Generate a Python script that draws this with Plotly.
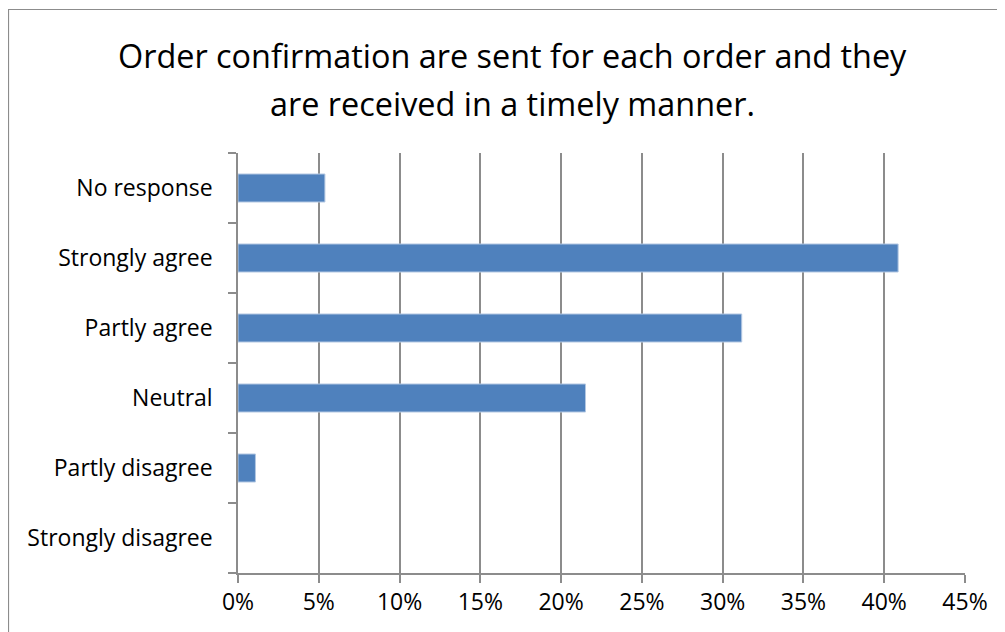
import plotly.graph_objects as go

categories = ["Strongly disagree", "Partly disagree", "Neutral", "Partly agree", "Strongly agree", "No response"]
values = [0.0, 0.0108, 0.2151, 0.3118, 0.4086, 0.0538]
x_ticks = [0, 0.05, 0.10, 0.15, 0.20, 0.25, 0.30, 0.35, 0.40, 0.45]
x_tick_labels = ["0%", "5%", "10%", "15%", "20%", "25%", "30%", "35%", "40%", "45%"]
title_lines = ["Order confirmation are sent for each order and they",
               "are received in a timely manner."]

FONT = "Open Sans, Lato, sans-serif"
GRID = "#8c8c8c"

# page body has an 8px margin, so the figure is laid out 8px smaller
OFF = 8
W, H = 1005 - OFF, 632 - OFF
ML, MT = 238 - OFF, 153 - OFF
MR = W - (965 - OFF)
MB = H - (573 - OFF)
PW, PH = W - ML - MR, H - MT - MB

def px_x(p):
    return (p - OFF - ML) / PW

def px_y(p):
    return (H - MB - (p - OFF)) / PH

fig = go.Figure(go.Bar(
    x=values, y=categories, orientation="h",
    marker=dict(color="#4f81bd",
                line=dict(color="#b3c7e2", width=[1 if v > 0 else 0 for v in values])),
    width=0.4,
))

annotations = []
for i, line in enumerate(title_lines):
    annotations.append(dict(text=line, xref="paper", yref="paper",
                            x=px_x(512), y=px_y(55 + 48 * i),
                            xanchor="center", yanchor="middle", showarrow=False,
                            font=dict(family=FONT, size=32.4, color="black")))

fig.update_layout(
    width=W, height=H,
    margin=dict(l=ML, r=MR, t=MT, b=MB),
    paper_bgcolor="white", plot_bgcolor="white",
    showlegend=False,
    font=dict(family=FONT, size=23, color="black"),
    annotations=annotations,
    xaxis=dict(range=[0, 0.45], tickvals=x_ticks, ticktext=x_tick_labels,
               showgrid=True, gridcolor=GRID, gridwidth=1.5,
               showline=True, linecolor=GRID, linewidth=1.5,
               ticks="outside", ticklen=8, tickcolor=GRID, tickwidth=1.5,
               zeroline=False, fixedrange=True),
    yaxis=dict(categoryorder="array", categoryarray=categories,
               showgrid=False, showline=True, linecolor=GRID, linewidth=1.5,
               ticks="outside", tickson="boundaries", ticklen=8, tickcolor=GRID, tickwidth=1.5,
               ticklabelstandoff=19),
    shapes=[dict(type="rect", xref="paper", yref="paper",
                 x0=px_x(8.5), x1=px_x(1015), y0=px_y(645), y1=px_y(9.5),
                 line=dict(color="#8c8c8c", width=1.2), fillcolor="rgba(0,0,0,0)", layer="below")],
)

fig.write_html("out.html")
